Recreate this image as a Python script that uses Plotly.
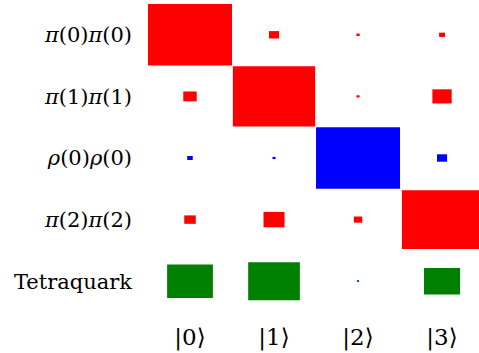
import plotly.graph_objects as go

# Row (basis operator) labels, top to bottom
row_labels = [
    "<i>π</i>(0)<i>π</i>(0)",
    "<i>π</i>(1)<i>π</i>(1)",
    "<i>ρ</i>(0)<i>ρ</i>(0)",
    "<i>π</i>(2)<i>π</i>(2)",
    "Tetraquark",
]
# Column (eigenstate) labels
state_labels = ["|0⟩", "|1⟩", "|2⟩", "|3⟩"]

# Relative overlap magnitude of each operator with each state (fraction of a cell)
w_pi0 = [1.00, 0.12, 0.04, 0.07]
w_pi1 = [0.16, 0.98, 0.036, 0.23]
w_rho0 = [0.066, 0.036, 1.00, 0.12]
w_pi2 = [0.137, 0.25, 0.10, 0.955]
w_tetra = [0.545, 0.615, 0.025, 0.43]

weights = [w_pi0, w_pi1, w_rho0, w_pi2, w_tetra]
row_colors = ["#ff0000", "#ff0000", "#0000ff", "#ff0000", "#008000"]

fig = go.Figure()
for r, (w, color) in enumerate(zip(weights, row_colors)):
    fig.add_trace(
        go.Bar(
            x=list(range(len(state_labels))),
            y=w,
            base=[r - v / 2 for v in w],
            width=w,
            marker=dict(color=color, line=dict(width=0)),
            hoverinfo="skip",
            showlegend=False,
        )
    )

row_font = dict(family="DejaVu Serif", size=21, color="black")
state_font = dict(family="DejaVu Serif", size=23, color="black")

fig.update_layout(
    width=479,
    height=353,
    margin=dict(l=148, r=0, t=4, b=41),
    paper_bgcolor="white",
    plot_bgcolor="white",
    barmode="overlay",
    xaxis=dict(
        range=[-0.5, 3.44],
        tickvals=list(range(len(state_labels))),
        ticktext=state_labels,
        tickfont=state_font,
        showgrid=False,
        zeroline=False,
        showline=False,
        ticks="",
        ticklabelstandoff=9,
        fixedrange=True,
    ),
    yaxis=dict(
        range=[len(row_labels) - 0.5, -0.5],
        tickvals=list(range(len(row_labels))),
        ticktext=row_labels,
        tickfont=row_font,
        showgrid=False,
        zeroline=False,
        showline=False,
        ticks="",
        ticklabelstandoff=15,
        fixedrange=True,
    ),
)

fig.write_html("out.html")
